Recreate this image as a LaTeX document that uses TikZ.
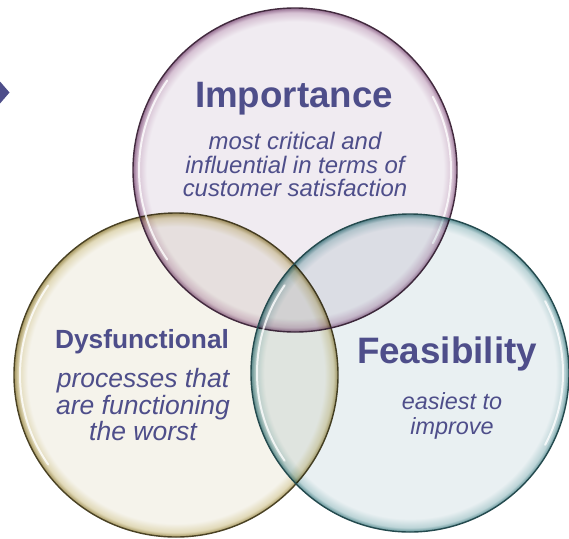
\documentclass[tikz,border=0pt]{standalone}
\usepackage{fontspec}
\setmainfont{Liberation Sans}

\definecolor{txtblue}{RGB}{78,78,138}
\definecolor{impfill}{RGB}{240,235,241}
\definecolor{impmid}{RGB}{214,193,211}
\definecolor{imprim}{RGB}{150,112,146}
\definecolor{impedge}{RGB}{66,42,62}
\definecolor{dysfill}{RGB}{245,243,235}
\definecolor{dysmid}{RGB}{225,217,184}
\definecolor{dysrim}{RGB}{165,150,95}
\definecolor{dysedge}{RGB}{74,66,36}
\definecolor{feafill}{RGB}{233,240,242}
\definecolor{feamid}{RGB}{188,212,215}
\definecolor{fearim}{RGB}{95,145,150}
\definecolor{feaedge}{RGB}{36,74,78}

% glassy disc: flat inside, darker band towards the rim
\pgfdeclareradialshading[bubfill,bubmid,bubrim]{bubble}{\pgfpoint{0bp}{0bp}}{%
  color(0bp)=(bubfill); color(22.9bp)=(bubfill); color(24.3bp)=(bubmid);
  color(25bp)=(bubrim); color(50bp)=(bubrim)}

\begin{document}
\begin{tikzpicture}[x=1pt,y=-1pt,
  bubble/.style n args={3}{/utils/exec={\colorlet{bubfill}{#1}\colorlet{bubmid}{#2}\colorlet{bubrim}{#3}},
    shading=bubble, blend mode=multiply},
  gloss/.style={white, line width=2, opacity=.8, line cap=round},
  rim/.style={line width=1.4},
  head/.style={text=txtblue, inner sep=0pt, anchor=base, font=\bfseries\fontsize{#1}{#1}\selectfont},
  note/.style 2 args={text=txtblue, inner sep=0pt, anchor=north, align=center,
    font=\itshape\fontsize{#1}{#2}\selectfont}]
	\useasboundingbox (0,0) rectangle (569,538);

	\coordinate (dys) at (176,375);
	\coordinate (imp) at (295,170);
	\coordinate (fea) at (410,373);

	% the three circles
	\shade[bubble={dysfill}{dysmid}{dysrim}] (dys) circle (162);
	\draw[gloss] (dys) ++(145:156) arc[start angle=145, end angle=215, radius=156];
	\draw[rim, dysedge] (dys) circle (162);

	\shade[bubble={impfill}{impmid}{imprim}] (imp) circle (162);
	\draw[gloss] (imp) ++(145:156) arc[start angle=145, end angle=215, radius=156];
	\draw[gloss] (imp) ++(-28:156) arc[start angle=-28, end angle=28, radius=156];
	\draw[rim, impedge] (imp) circle (162);

	\shade[bubble={feafill}{feamid}{fearim}] (fea) circle (159);
	\draw[gloss] (fea) ++(145:153) arc[start angle=145, end angle=215, radius=153];
	\draw[gloss] (fea) ++(-28:153) arc[start angle=-28, end angle=28, radius=153];
	\draw[rim, feaedge] (fea) circle (159);

	% small marker on the left
	\fill[txtblue] (0,81.5) -- (9.5,92.5) -- (0,103.5) -- cycle;

	% labels
	\node[head=36.7] (imptitle) at (294,107) {Importance};
	\node[note={23.9}{23.5}] (impnote) at (295,132) {most critical and\\influential in terms of\\customer satisfaction};
	\node[head=26.3] (dystitle) at (142,348) {Dysfunctional};
	\node[note={26.5}{26.6}] (dysnote) at (143,368) {processes that\\are functioning\\the worst};
	\node[head=36.8] (featitle) at (447,363) {Feasibility};
	\node[note={23.4}{25}] (feanote) at (452,392) {easiest to\\improve};
\end{tikzpicture}
\end{document}
